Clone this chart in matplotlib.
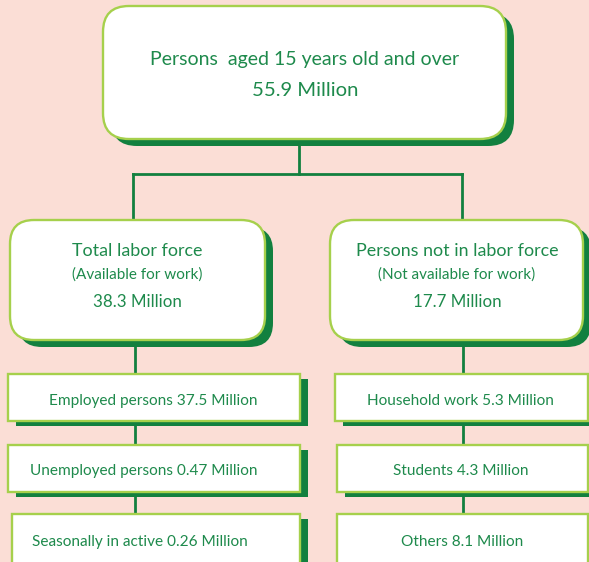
import matplotlib
matplotlib.use("Agg")
import matplotlib.pyplot as plt
from matplotlib.patches import FancyBboxPatch, Rectangle

# ---- data ----
top_label = "Persons  aged 15 years old and over"
top_value = 55.9
mid_labels = ["Total labor force", "Persons not in labor force"]
mid_sublabels = ["(Available for work)", "(Not available for work)"]
mid_values = [38.3, 17.7]
left_items = ["Employed persons", "Unemployed persons", "Seasonally in active"]
left_values = ["37.5", "0.47", "0.26"]
right_items = ["Household work", "Students", "Others"]
right_values = ["5.3", "4.3", "8.1"]

BG = "#FBDED6"
TXT = "#1E8A4C"
EDGE = "#A6D04C"
SHADOW = "#12803F"
LINE = "#12803F"
FONT = ["Lato", "DejaVu Sans"]

fig = plt.figure(figsize=(5.89, 5.62), dpi=100)
fig.patch.set_facecolor(BG)
ax = fig.add_axes([0, 0, 1, 1])
ax.set_xlim(0, 589)
ax.set_ylim(562, 0)
ax.axis("off")
ax.set_facecolor(BG)


def rbox(x, y, w, h, r=24, sdx=8, sdy=7):
    sh = FancyBboxPatch((x + sdx, y + sdy), w, h,
                        boxstyle=f"round,pad=0,rounding_size={r}",
                        fc=SHADOW, ec="none", zorder=2)
    ax.add_patch(sh)
    bx = FancyBboxPatch((x, y), w, h,
                        boxstyle=f"round,pad=0,rounding_size={r}",
                        fc="white", ec=EDGE, lw=1.7, zorder=3)
    ax.add_patch(bx)


def sbox(x, y, w, h, sdx=8, sdy=5):
    ax.add_patch(Rectangle((x + sdx, y + sdy), w, h, fc=SHADOW, ec="none", zorder=2))
    ax.add_patch(Rectangle((x, y), w, h, fc="white", ec=EDGE, lw=1.7, zorder=3))


def txt(x, y, s, size):
    ax.text(x, y + 2, s, ha="center", va="center", color=TXT, fontsize=size,
            family=FONT, zorder=5)


# connectors
lw = 2.0
ax.plot([299, 299], [139, 174], color=LINE, lw=lw, zorder=1)
ax.plot([133, 462], [174, 174], color=LINE, lw=lw, zorder=1)
ax.plot([133, 133], [174, 222], color=LINE, lw=lw, zorder=1)
ax.plot([462, 462], [174, 222], color=LINE, lw=lw, zorder=1)
ax.plot([135, 135], [340, 562], color=LINE, lw=lw, zorder=1)
ax.plot([463, 463], [340, 562], color=LINE, lw=lw, zorder=1)

# top box
rbox(103, 6, 403, 133, r=26)
txt(305, 58, top_label, 14)
txt(305, 88, f"{top_value} Million", 14.6)

# mid boxes
mid_x = [10, 330]
mid_w = [255, 253]
mid_cx = [137, 457]
for i in range(2):
    rbox(mid_x[i], 220, mid_w[i], 120, r=24)
    txt(mid_cx[i], 249, mid_labels[i], 12.9)
    txt(mid_cx[i], 273, mid_sublabels[i], 11)
    txt(mid_cx[i], 300, f"{mid_values[i]} Million", 12.2)

# small boxes
rows_y = [374, 445, 514]
rows_cy = [399, 469, 540]
left_x = [8, 8, 12]
left_cx = [153, 144, 140]
right_x = [335, 337, 337]
right_cx = [460, 461, 462]
for j in range(3):
    sbox(left_x[j], rows_y[j], 300 - left_x[j], 47 if j < 2 else 60)
    txt(left_cx[j], rows_cy[j], f"{left_items[j]} {left_values[j]} Million", 11.1)
    sbox(right_x[j], rows_y[j], 589 - right_x[j] - 1, 47 if j < 2 else 60)
    txt(right_cx[j], rows_cy[j], f"{right_items[j]} {right_values[j]} Million", 11.1)

fig.savefig("out.png", dpi=100, facecolor=BG)
